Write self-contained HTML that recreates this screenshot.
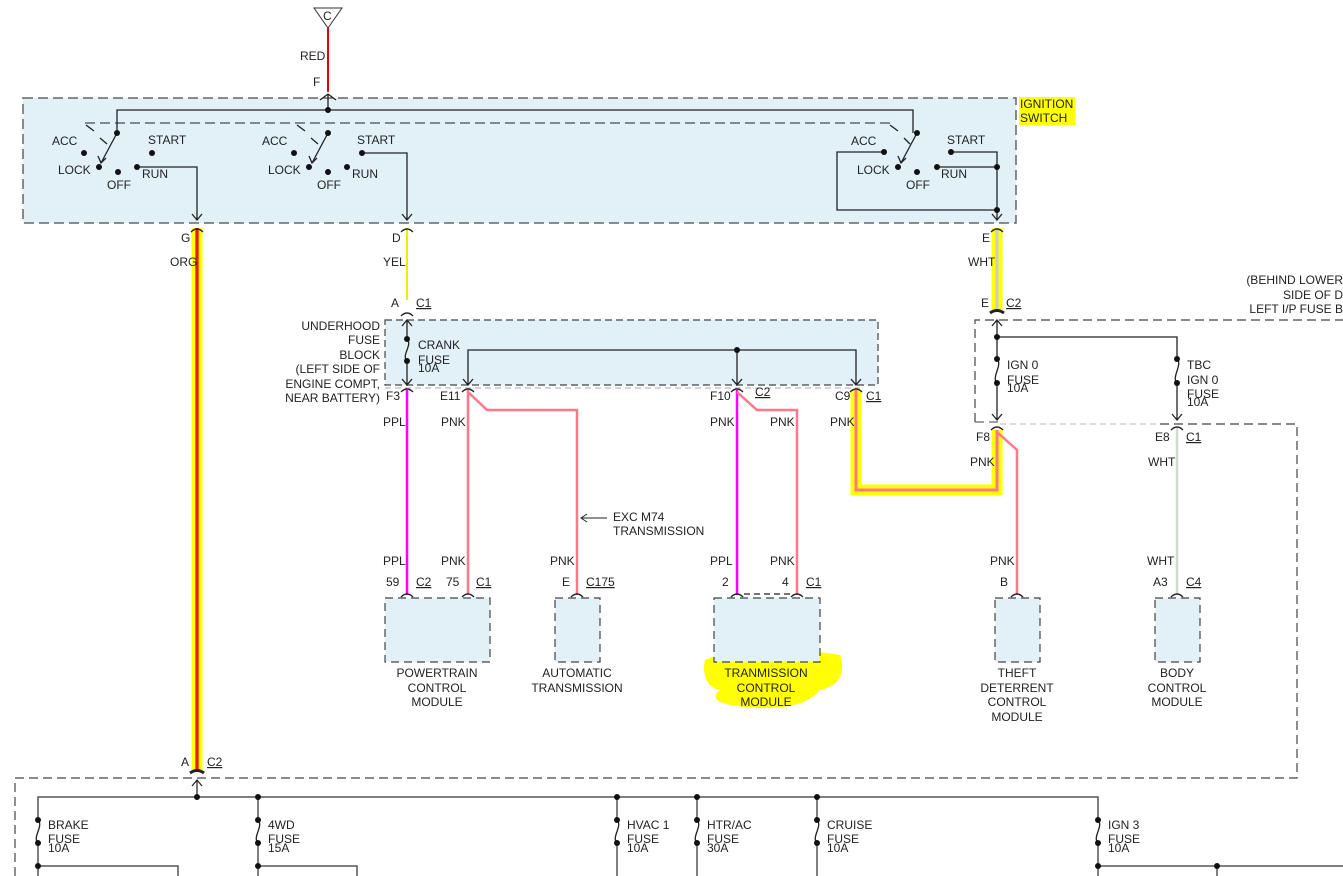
<!DOCTYPE html>
<html><head><meta charset="utf-8"><style>
html,body{margin:0;padding:0;background:#fff;}
svg{display:block;font-family:"Liberation Sans",Arial,sans-serif;font-size:12px;fill:#222;}
</style></head><body>
<svg width="1343" height="876" viewBox="0 0 1343 876" xmlns="http://www.w3.org/2000/svg">
<defs>
<pattern id="bg" width="4" height="4" patternUnits="userSpaceOnUse"><rect width="4" height="4" fill="#e2f0f8"/></pattern>
</defs>
<!-- top -->
<polygon points="314,8 342,8 328,28" fill="#fff" stroke="#333"/>
<text x="323" y="20">C</text>
<line x1="328" y1="28" x2="328" y2="92" stroke="#e00" stroke-width="2"/>
<text x="300" y="60">RED</text><text x="313" y="86">F</text>

<!-- ignition switch box -->
<rect x="23" y="98" width="993" height="125" fill="url(#bg)" stroke="#666" stroke-width="1.5" stroke-dasharray="10,5"/>
<line x1="85" y1="123" x2="890" y2="123" stroke="#666" stroke-width="1.5" stroke-dasharray="10,5"/>
<rect x="1019" y="97" width="56" height="28" fill="#ff0"/>
<text x="1020" y="108">IGNITION</text><text x="1020" y="122">SWITCH</text>
<g stroke="#222" stroke-width="1.3" fill="none">
<path d="M320,100 L328,94 L336,100"/>
<polyline points="117,133 117,110 913,110 913,133"/>
<line x1="328" y1="110" x2="328" y2="95"/>
<!-- left switch -->
<line x1="117" y1="133" x2="101" y2="163"/><path d="M98,156 L101,163 L106,158"/>
<line x1="86" y1="125" x2="94" y2="131"/><line x1="100" y1="138" x2="107" y2="144"/>
<polyline points="137,167 197,167 197,220"/><path d="M192,214 L197,220 L202,214"/>
<!-- middle -->
<line x1="328" y1="133" x2="312" y2="163"/><path d="M309,156 L312,163 L317,158"/>
<line x1="297" y1="125" x2="305" y2="131"/><line x1="311" y1="138" x2="318" y2="144"/>
<polyline points="362,153 407,153 407,220"/><path d="M402,214 L407,220 L412,214"/>
<!-- right -->
<line x1="917" y1="133" x2="901" y2="163"/><path d="M898,156 L901,163 L906,158"/>
<line x1="890" y1="125" x2="898" y2="131"/><line x1="904" y1="138" x2="910" y2="144"/>
<polyline points="884,152 837,152 837,210 997,210"/>
<polyline points="951,152 997,152 997,220"/><line x1="937" y1="167" x2="997" y2="167"/>
<path d="M992,214 L997,220 L1002,214"/>
</g>
<g fill="#111">
<circle cx="117" cy="133" r="3"/><circle cx="84" cy="153" r="3"/><circle cx="152" cy="153" r="3"/><circle cx="99" cy="167" r="3"/><circle cx="118" cy="172" r="3"/><circle cx="137" cy="167" r="3"/>
<circle cx="328" cy="110" r="3"/><circle cx="328" cy="133" r="3"/><circle cx="294" cy="153" r="3"/><circle cx="362" cy="153" r="3"/><circle cx="309" cy="167" r="3"/><circle cx="328" cy="172" r="3"/><circle cx="347" cy="167" r="3"/>
<circle cx="917" cy="133" r="3"/><circle cx="884" cy="152" r="3"/><circle cx="951" cy="152" r="3"/><circle cx="898" cy="167" r="3"/><circle cx="917" cy="172" r="3"/><circle cx="937" cy="167" r="3"/><circle cx="997" cy="167" r="3"/><circle cx="997" cy="210" r="3"/>
</g>
<text x="52" y="145">ACC</text><text x="148" y="144">START</text><text x="58" y="174">LOCK</text><text x="107" y="189">OFF</text><text x="142" y="178">RUN</text>
<text x="262" y="145">ACC</text><text x="357" y="144">START</text><text x="268" y="174">LOCK</text><text x="317" y="189">OFF</text><text x="352" y="178">RUN</text>
<text x="851" y="145">ACC</text><text x="947" y="144">START</text><text x="857" y="174">LOCK</text><text x="906" y="189">OFF</text><text x="941" y="178">RUN</text>

<!-- wires from switch -->
<line x1="197" y1="228" x2="197" y2="772" stroke="#ff0" stroke-width="11"/>
<line x1="197" y1="228" x2="197" y2="772" stroke="#f60" stroke-width="4"/>
<line x1="197" y1="228" x2="197" y2="772" stroke="#d00" stroke-width="1.5"/>
<line x1="407" y1="228" x2="407" y2="300" stroke="#ee0" stroke-width="2"/>
<line x1="997" y1="228" x2="997" y2="312" stroke="#ff0" stroke-width="11"/>
<line x1="997" y1="228" x2="997" y2="312" stroke="#ccc" stroke-width="3"/>
<g stroke="#222" fill="none" stroke-width="1.3">
<path d="M191,232 Q197,226 203,232"/><path d="M401,232 Q407,226 413,232"/><path d="M991,232 Q997,226 1003,232"/>
</g>
<text x="181" y="242">G</text><text x="170" y="266">ORG</text>
<text x="392" y="242">D</text><text x="383" y="266">YEL</text>
<text x="982" y="242">E</text><text x="968" y="266">WHT</text>

<!-- underhood fuse block -->
<rect x="385" y="320" width="493" height="65" fill="url(#bg)" stroke="#444" stroke-width="1.2" stroke-dasharray="7,4"/>
<line x1="385" y1="388" x2="860" y2="388" stroke="#aaa" stroke-dasharray="6,4"/>
<text x="391" y="307">A</text><text x="416" y="307" text-decoration="underline">C1</text>
<g text-anchor="end"><text x="380" y="330">UNDERHOOD</text><text x="380" y="344">FUSE</text><text x="380" y="359">BLOCK</text><text x="380" y="373">(LEFT SIDE OF</text><text x="380" y="388">ENGINE COMPT,</text><text x="380" y="402">NEAR BATTERY)</text></g>
<text x="418" y="349">CRANK</text><text x="418" y="364">FUSE</text><text x="418" y="372">10A</text>
<g stroke="#222" fill="none" stroke-width="1.3">
<path d="M401,316 Q407,310 413,316"/>
<line x1="407" y1="320" x2="407" y2="339"/><path d="M407,339 C413,345 401,355 407,361"/><line x1="407" y1="361" x2="407" y2="385"/>
<path d="M402,326 L407,320 L412,326"/><path d="M402,379 L407,385 L412,379"/>
<polyline points="468,385 468,350 856,350 856,385"/><line x1="737" y1="350" x2="737" y2="385"/>
<path d="M463,379 L468,385 L473,379"/><path d="M732,379 L737,385 L742,379"/><path d="M851,379 L856,385 L861,379"/>
</g>
<circle cx="407" cy="339" r="3" fill="#111"/><circle cx="407" cy="361" r="3" fill="#111"/><circle cx="737" cy="350" r="3" fill="#111"/>

<!-- outgoing wires -->
<line x1="407" y1="390" x2="407" y2="595" stroke="#f0f" stroke-width="2.5"/>
<line x1="468" y1="390" x2="468" y2="595" stroke="#f78" stroke-width="2.5"/>
<polyline points="468,392 487,410 577,410 577,595" stroke="#f78" stroke-width="2.5" fill="none"/>
<line x1="737" y1="390" x2="737" y2="595" stroke="#f0f" stroke-width="2.5"/>
<polyline points="737,392 757,410 797,410 797,595" stroke="#f78" stroke-width="2.5" fill="none"/>
<polyline points="856,390 856,490 997,490 997,430" stroke="#ff0" stroke-width="11" fill="none"/>
<polyline points="856,390 856,490 997,490 997,430" stroke="#f78" stroke-width="3" fill="none"/>
<polyline points="997,432 1017,450 1017,595" stroke="#f78" stroke-width="2.5" fill="none"/>
<line x1="1177" y1="428" x2="1177" y2="595" stroke="#cdc" stroke-width="2.5"/>
<g stroke="#222" fill="none" stroke-width="1.3">
<path d="M401,392 Q407,386 413,392"/><path d="M462,392 Q468,386 474,392"/><path d="M731,392 Q737,386 743,392"/><path d="M850,392 Q856,386 862,392"/>
</g>
<text x="386" y="400">F3</text><text x="440" y="400">E11</text><text x="710" y="400">F10</text><text x="755" y="396" text-decoration="underline">C2</text><text x="835" y="400">C9</text><text x="866" y="400" text-decoration="underline">C1</text>
<text x="383" y="426">PPL</text><text x="441" y="426">PNK</text><text x="710" y="426">PNK</text><text x="770" y="426">PNK</text><text x="830" y="426">PNK</text>
<line x1="607" y1="518" x2="582" y2="518" stroke="#222"/><path d="M587,514 L581,518 L587,522" stroke="#222" fill="none"/>
<text x="613" y="521">EXC M74</text><text x="613" y="535">TRANSMISSION</text>

<!-- right fuse block -->
<g text-anchor="end"><text x="1343" y="284">(BEHIND LOWER</text><text x="1343" y="299">SIDE OF D</text><text x="1343" y="313">LEFT I/P FUSE B</text></g>
<text x="981" y="307">E</text><text x="1006" y="307" text-decoration="underline">C2</text>
<path d="M975,422 L975,320 L1343,320" stroke="#444" stroke-width="1.2" fill="none" stroke-dasharray="9,5"/>
<line x1="975" y1="422" x2="1000" y2="422" stroke="#444" stroke-dasharray="9,5"/>
<line x1="1000" y1="424" x2="1160" y2="424" stroke="#bbb" stroke-dasharray="6,4"/>
<path d="M1160,424 L1297,424 L1297,778 L15,778 L15,876" stroke="#444" stroke-width="1.2" fill="none" stroke-dasharray="9,5"/>
<g stroke="#222" fill="none" stroke-width="1.3">
<path d="M990,313 Q997,308 1004,313" stroke-width="3"/>
<line x1="997" y1="320" x2="997" y2="359"/><path d="M997,359 C1003,365 991,377 997,383"/><line x1="997" y1="383" x2="997" y2="420"/>
<polyline points="997,337 1177,337 1177,359"/><path d="M1177,359 C1183,365 1171,377 1177,383"/><line x1="1177" y1="383" x2="1177" y2="420"/>
<path d="M992,326 L997,320 L1002,326"/><path d="M992,414 L997,420 L1002,414"/><path d="M1172,414 L1177,420 L1182,414"/>
<path d="M991,430 Q997,424 1003,430"/><path d="M1171,430 Q1177,424 1183,430"/>
</g>
<g fill="#111"><circle cx="997" cy="337" r="3"/><circle cx="997" cy="359" r="3"/><circle cx="997" cy="383" r="3"/><circle cx="1177" cy="359" r="3"/><circle cx="1177" cy="383" r="3"/></g>
<text x="1007" y="369">IGN 0</text><text x="1007" y="384">FUSE</text><text x="1007" y="392">10A</text>
<text x="1187" y="369">TBC</text><text x="1187" y="384">IGN 0</text><text x="1187" y="398">FUSE</text><text x="1187" y="406">10A</text>
<text x="976" y="441">F8</text><text x="1155" y="441">E8</text><text x="1186" y="441" text-decoration="underline">C1</text>
<text x="970" y="466">PNK</text><text x="1148" y="466">WHT</text>

<!-- bottom connectors labels -->
<text x="383" y="565">PPL</text><text x="441" y="565">PNK</text><text x="550" y="565">PNK</text><text x="710" y="565">PPL</text><text x="770" y="565">PNK</text><text x="990" y="565">PNK</text><text x="1147" y="565">WHT</text>
<text x="386" y="586">59</text><text x="416" y="586" text-decoration="underline">C2</text>
<text x="446" y="586">75</text><text x="476" y="586" text-decoration="underline">C1</text>
<text x="562" y="586">E</text><text x="586" y="586" text-decoration="underline">C175</text>
<text x="722" y="586">2</text><text x="782" y="586">4</text><text x="806" y="586" text-decoration="underline">C1</text>
<text x="1000" y="586">B</text><text x="1153" y="586">A3</text><text x="1186" y="586" text-decoration="underline">C4</text>
<g stroke="#222" fill="none" stroke-width="1.3">
<path d="M401,597 Q407,591 413,597"/><path d="M462,597 Q468,591 474,597"/><path d="M571,597 Q577,591 583,597"/><path d="M731,597 Q737,591 743,597"/><path d="M791,597 Q797,591 803,597"/><path d="M1011,597 Q1017,591 1023,597"/><path d="M1171,597 Q1177,591 1183,597"/>
<line x1="744" y1="594" x2="790" y2="594" stroke-dasharray="6,4"/>
</g>
<path d="M705,660 C740,645 800,648 840,655 C845,670 842,685 820,690 C810,700 800,708 760,708 C720,706 708,700 720,690 C705,688 702,670 705,660 Z" fill="#ff0"/>
<g fill="url(#bg)" stroke="#444" stroke-width="1.2" stroke-dasharray="8,5">
<rect x="385" y="598" width="105" height="64"/><rect x="555" y="598" width="45" height="64"/><rect x="714" y="598" width="106" height="64"/><rect x="995" y="598" width="45" height="64"/><rect x="1155" y="598" width="45" height="64"/>
</g>
<g text-anchor="middle">
<text x="437" y="677">POWERTRAIN</text><text x="437" y="692">CONTROL</text><text x="437" y="706">MODULE</text>
<text x="577" y="677">AUTOMATIC</text><text x="577" y="692">TRANSMISSION</text>
<text x="766" y="677">TRANMISSION</text><text x="766" y="692">CONTROL</text><text x="766" y="706">MODULE</text>
<text x="1017" y="677">THEFT</text><text x="1017" y="692">DETERRENT</text><text x="1017" y="706">CONTROL</text><text x="1017" y="721">MODULE</text>
<text x="1177" y="677">BODY</text><text x="1177" y="692">CONTROL</text><text x="1177" y="706">MODULE</text>
</g>

<!-- bottom bus -->
<text x="181" y="766">A</text><text x="207" y="766" text-decoration="underline">C2</text>
<path d="M190,773 Q197,768 204,773" stroke="#222" stroke-width="3" fill="none"/>
<g stroke="#555" stroke-width="1.5" fill="none">
<line x1="197" y1="780" x2="197" y2="797" stroke="#222" stroke-width="1.2"/><path d="M192,786 L197,780 L202,786" stroke="#222" stroke-width="1.2"/>
<polyline points="38,876 38,797 1098,797 1098,876"/>
<line x1="258" y1="797" x2="258" y2="876"/><line x1="617" y1="797" x2="617" y2="876"/><line x1="697" y1="797" x2="697" y2="876"/><line x1="817" y1="797" x2="817" y2="876"/>
<polyline points="38,866 178,866 178,876"/><polyline points="258,866 357,866 357,876"/><polyline points="1098,866 1343,866"/><line x1="1217" y1="866" x2="1217" y2="876"/>
</g>
<g fill="#fff" stroke="none">
<rect x="34" y="821" width="8" height="21"/><rect x="254" y="821" width="8" height="21"/><rect x="613" y="821" width="8" height="21"/><rect x="693" y="821" width="8" height="21"/><rect x="813" y="821" width="8" height="21"/><rect x="1094" y="821" width="8" height="21"/>
</g>
<g stroke="#222" stroke-width="1.3" fill="none">
<path d="M38,820 C44,826 32,837 38,843"/><path d="M258,820 C264,826 252,837 258,843"/><path d="M617,820 C623,826 611,837 617,843"/><path d="M697,820 C703,826 691,837 697,843"/><path d="M817,820 C823,826 811,837 817,843"/><path d="M1098,820 C1104,826 1092,837 1098,843"/>
</g>
<g fill="#111">
<circle cx="197" cy="797" r="3"/><circle cx="258" cy="797" r="3"/><circle cx="617" cy="797" r="3"/><circle cx="697" cy="797" r="3"/><circle cx="817" cy="797" r="3"/>
<circle cx="38" cy="820" r="3"/><circle cx="38" cy="843" r="3"/><circle cx="258" cy="820" r="3"/><circle cx="258" cy="843" r="3"/><circle cx="617" cy="820" r="3"/><circle cx="617" cy="843" r="3"/><circle cx="697" cy="820" r="3"/><circle cx="697" cy="843" r="3"/><circle cx="817" cy="820" r="3"/><circle cx="817" cy="843" r="3"/><circle cx="1098" cy="820" r="3"/><circle cx="1098" cy="843" r="3"/>
<circle cx="38" cy="866" r="3"/><circle cx="258" cy="866" r="3"/><circle cx="1098" cy="866" r="3"/><circle cx="1217" cy="866" r="3"/>
</g>
<text x="48" y="829">BRAKE</text><text x="48" y="843">FUSE</text><text x="48" y="852">10A</text>
<text x="268" y="829">4WD</text><text x="268" y="843">FUSE</text><text x="268" y="852">15A</text>
<text x="627" y="829">HVAC 1</text><text x="627" y="843">FUSE</text><text x="627" y="852">10A</text>
<text x="707" y="829">HTR/AC</text><text x="707" y="843">FUSE</text><text x="707" y="852">30A</text>
<text x="827" y="829">CRUISE</text><text x="827" y="843">FUSE</text><text x="827" y="852">10A</text>
<text x="1108" y="829">IGN 3</text><text x="1108" y="843">FUSE</text><text x="1108" y="852">10A</text>
</svg>
</body></html>
